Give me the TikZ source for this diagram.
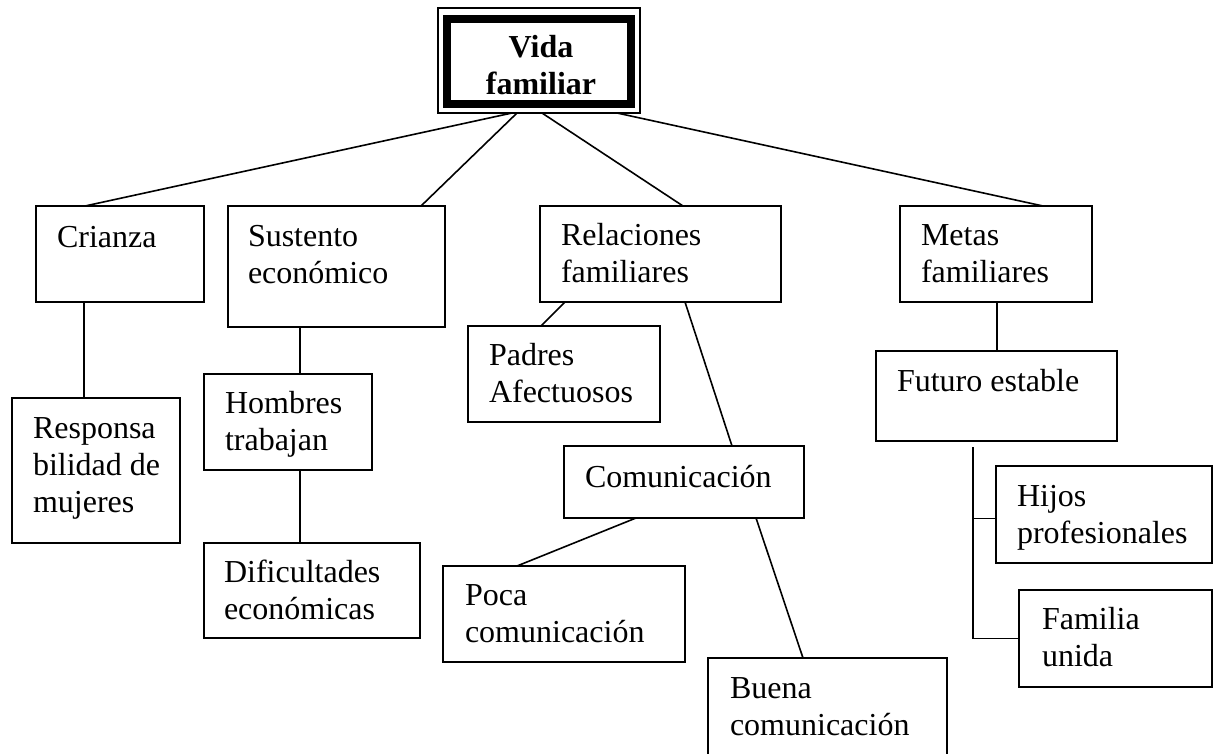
\documentclass[tikz,border=0pt]{standalone}
\usepackage{fontspec}
\setmainfont{Liberation Serif}
\begin{document}
\begin{tikzpicture}[x=1pt,y=-1pt,
  box/.style={draw, line width=1.7pt, inner sep=0pt, outer sep=0pt, anchor=north west},
  txt/.style={anchor=base west, inner sep=0pt, outer sep=0pt, font=\fontsize{32}{37}\selectfont},
  link/.style={line width=1.6pt}]
\useasboundingbox (0,0) rectangle (1218,753);
\clip (0,0) rectangle (1218,753);
% title box
\node[box, line width=1.4pt, minimum width=202, minimum height=105] (top) at (438,8) {};
\node[box, line width=8pt, minimum width=184, minimum height=85] (topin) at (447,19) {};
\node[anchor=base, inner sep=0pt, font=\fontsize{32}{37}\selectfont\bfseries] (title) at (541,57)
  {\vtop{\hbox to 130pt{\hss Vida\hss}\hbox to 130pt{\hss familiar\hss}}};
% boxes
\node[box, minimum width=168, minimum height=96]  (crianza) at (36,206) {};
\node[box, minimum width=217, minimum height=121] (sust)    at (228,206) {};
\node[box, minimum width=168, minimum height=145] (resp)    at (12,398) {};
\node[box, minimum width=168, minimum height=96]  (hombres) at (204,374) {};
\node[box, minimum width=216, minimum height=95]  (dific)   at (204,543) {};
\node[box, minimum width=241, minimum height=96]  (relac)   at (540,206) {};
\node[box, minimum width=192, minimum height=96]  (padres)  at (468,326) {};
\node[box, minimum width=240, minimum height=72]  (comun)   at (564,446) {};
\node[box, minimum width=242, minimum height=96]  (poca)    at (443,566) {};
\node[box, minimum width=239, minimum height=110] (buena)   at (708,658) {};
\node[box, minimum width=192, minimum height=96]  (metas)   at (900,206) {};
\node[box, minimum width=241, minimum height=90]  (futuro)  at (876,351) {};
\node[box, minimum width=216, minimum height=97]  (hijos)   at (996,466) {};
\node[box, minimum width=193, minimum height=97]  (familia) at (1019,590) {};
% texts
\node[txt] (t-crianza) at (57,247)   {Crianza};
\node[txt] (t-sust)    at (248,246)  {\vtop{\hbox{Sustento}\hbox{económico}}};
\node[txt] (t-resp)    at (33,438)   {\vtop{\hbox{Responsa}\hbox{bilidad de}\hbox{mujeres}}};
\node[txt] (t-hombres) at (225,413)  {\vtop{\hbox{Hombres}\hbox{trabajan}}};
\node[txt] (t-dific)   at (224,582)  {\vtop{\hbox{Dificultades}\hbox{económicas}}};
\node[txt] (t-relac)   at (561,245)  {\vtop{\hbox{Relaciones}\hbox{familiares}}};
\node[txt] (t-padres)  at (489,365)  {\vtop{\hbox{Padres}\hbox{Afectuosos}}};
\node[txt] (t-comun)   at (585,487)  {Comunicación};
\node[txt] (t-poca)    at (465,605)  {\vtop{\hbox{Poca}\hbox{comunicación}}};
\node[txt] (t-buena)   at (730,698)  {\vtop{\hbox{Buena}\hbox{comunicación}}};
\node[txt] (t-metas)   at (921,245)  {\vtop{\hbox{Metas}\hbox{familiares}}};
\node[txt] (t-futuro)  at (897,391)  {Futuro estable};
\node[txt] (t-hijos)   at (1017,506) {\vtop{\hbox{Hijos}\hbox{profesionales}}};
\node[txt] (t-familia) at (1042,629) {\vtop{\hbox{Familia}\hbox{unida}}};
% connectors
\draw[link] ([xshift=74pt]top.south west)  -- ([xshift=49pt]crianza.north west);
\draw[link] ([xshift=79pt]top.south west)  -- ([xshift=193pt]sust.north west);
\draw[link] ([xshift=104pt]top.south west) -- ([xshift=143pt]relac.north west);
\draw[link] ([xshift=179pt]top.south west) -- ([xshift=143pt]metas.north west);
\draw[link] ([xshift=48pt]crianza.south west) -- ([xshift=72pt]resp.north west);
\draw[link] ([xshift=72pt]sust.south west) -- ([xshift=96pt]hombres.north west);
\draw[link] ([xshift=96pt]hombres.south west) -- ([xshift=96pt]dific.north west);
\draw[link] ([xshift=25pt]relac.south west) -- ([xshift=73pt]padres.north west);
\draw[link] ([xshift=145pt]relac.south west) -- ([xshift=168pt]comun.north west);
\draw[link] ([xshift=72pt]comun.south west) -- ([xshift=74pt]poca.north west);
\draw[link] ([xshift=192pt]comun.south west) -- ([xshift=95pt]buena.north west);
\draw[link] ([xshift=97pt]metas.south west) -- ([xshift=121pt]futuro.north west);
\coordinate (fj) at ([xshift=97pt,yshift=-6pt]futuro.south west);
\draw[link] (fj) |- (familia.west);
\draw[link] ([yshift=-4pt]hijos.west) -- ++(-23,0);
\end{tikzpicture}
\end{document}
